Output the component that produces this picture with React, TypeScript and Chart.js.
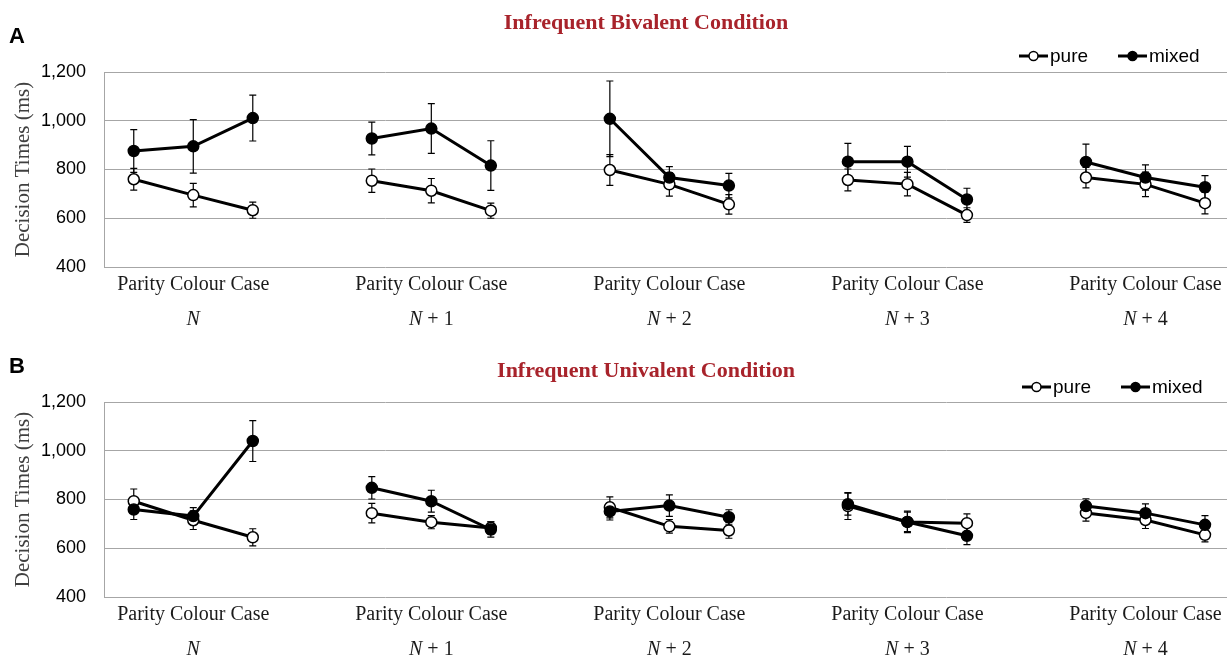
import React, { useEffect, useRef } from "react";
import { Chart, registerables } from "chart.js";
Chart.register(...registerables);

const groups = ["N", "N + 1", "N + 2", "N + 3", "N + 4"];
const conditions = ["Parity", "Colour", "Case"];
const tickLabel = conditions.join(" ");
const yTicks = [400, 600, 800, 1000, 1200];
const seriesNames = ["pure", "mixed"];

// Panel A – Infrequent Bivalent Condition
const pureA = [760, 695, 633, 754, 713, 631, 798, 739, 657, 757, 740, 613, 767, 739, 662];
const pureAErr = [45, 48, 33, 48, 50, 31, 63, 48, 40, 45, 48, 30, 42, 50, 44];
const mixedA = [876, 895, 1011, 927, 968, 816, 1008, 767, 734, 832, 832, 677, 831, 767, 727];
const mixedAErr = [88, 110, 94, 67, 102, 102, 155, 45, 50, 75, 63, 46, 73, 52, 48];

// Panel B – Infrequent Univalent Condition
const pureB = [793, 715, 645, 744, 707, 683, 768, 690, 673, 773, 708, 703, 745, 716, 655];
const pureBErr = [50, 38, 35, 40, 27, 25, 43, 28, 32, 55, 40, 38, 34, 35, 29];
const mixedB = [759, 732, 1040, 848, 793, 677, 751, 775, 727, 781, 708, 651, 773, 744, 696];
const mixedBErr = [41, 35, 84, 46, 45, 31, 35, 44, 31, 45, 44, 36, 30, 38, 38];

const W = 1227;
const H = 330;

type Pt = { x: number; y: number | null; err?: number };

function toPoints(vals: number[], errs: number[]): Pt[] {
  const out: Pt[] = [];
  groups.forEach((_, g) => {
    conditions.forEach((_, c) => {
      const i = g * 3 + c;
      out.push({ x: g * 4 + c, y: vals[i], err: errs[i] });
    });
    if (g < groups.length - 1) out.push({ x: g * 4 + 3, y: null });
  });
  return out;
}

type PanelProps = {
  letter: string;
  title: string;
  pure: number[];
  pureErr: number[];
  mixed: number[];
  mixedErr: number[];
  titleBase: number;
  legendY: number;
  legendDx: number;
};

function Panel(p: PanelProps) {
  const ref = useRef<HTMLCanvasElement>(null);
  useEffect(() => {
    const errorBars = {
      id: "errorBars",
      beforeDatasetsDraw(chart: any) {
        const ctx = chart.ctx;
        const ys = chart.scales.y;
        ctx.save();
        ctx.strokeStyle = "#000";
        ctx.lineWidth = 1.2;
        chart.data.datasets.forEach((ds: any, di: number) => {
          const meta = chart.getDatasetMeta(di);
          ds.data.forEach((pt: Pt, i: number) => {
            if (pt.y == null || !pt.err) return;
            const el = meta.data[i];
            const x = el.x;
            const y1 = ys.getPixelForValue(pt.y + pt.err);
            const y2 = ys.getPixelForValue(pt.y - pt.err);
            ctx.beginPath();
            ctx.moveTo(x, y1);
            ctx.lineTo(x, y2);
            ctx.moveTo(x - 3.5, y1);
            ctx.lineTo(x + 3.5, y1);
            ctx.moveTo(x - 3.5, y2);
            ctx.lineTo(x + 3.5, y2);
            ctx.stroke();
          });
        });
        ctx.restore();
      },
    };
    const texts = {
      id: "texts",
      afterDraw(chart: any) {
        const ctx = chart.ctx;
        const xs = chart.scales.x;
        const area = chart.chartArea;
        ctx.save();
        // panel letter
        ctx.fillStyle = "#000";
        ctx.font = 'bold 22px "Liberation Sans"';
        ctx.textAlign = "left";
        ctx.textBaseline = "alphabetic";
        ctx.fillText(p.letter, 9, 43);
        // title
        ctx.fillStyle = "#a8232b";
        ctx.font = 'bold 22px "Liberation Serif"';
        ctx.textAlign = "center";
        ctx.fillText(p.title, 646, p.titleBase);
        // y title
        ctx.save();
        ctx.translate(23, (area.top + area.bottom) / 2);
        ctx.rotate(-Math.PI / 2);
        ctx.fillStyle = "#404040";
        ctx.font = '21px "Liberation Serif"';
        ctx.textAlign = "center";
        ctx.textBaseline = "middle";
        ctx.fillText("Decision Times (ms)", 0, 0);
        ctx.restore();
        // group labels
        ctx.fillStyle = "#1a1a1a";
        ctx.textBaseline = "alphabetic";
        ctx.textAlign = "left";
        groups.forEach((g, gi) => {
          const cx = xs.getPixelForValue(gi * 4 + 1);
          const rest = g.slice(1);
          ctx.font = 'italic 20px "Liberation Serif"';
          const w1 = ctx.measureText("N").width;
          ctx.font = '20px "Liberation Serif"';
          const w2 = ctx.measureText(rest).width;
          const x0 = cx - (w1 + w2) / 2;
          ctx.font = 'italic 20px "Liberation Serif"';
          ctx.fillText("N", x0, 325);
          ctx.font = '20px "Liberation Serif"';
          ctx.fillText(rest, x0 + w1, 325);
        });
        // legend
        const ly = p.legendY;
        const items = [
          { x: 1019 + p.legendDx, fill: "#fff" },
          { x: 1118 + p.legendDx, fill: "#000" },
        ];
        items.forEach((it, i) => {
          ctx.strokeStyle = "#000";
          ctx.lineWidth = 3;
          ctx.beginPath();
          ctx.moveTo(it.x, ly);
          ctx.lineTo(it.x + 29, ly);
          ctx.stroke();
          ctx.beginPath();
          ctx.arc(it.x + 14.5, ly, 4.5, 0, Math.PI * 2);
          ctx.fillStyle = it.fill;
          ctx.fill();
          ctx.lineWidth = 1.5;
          ctx.stroke();
          ctx.fillStyle = "#000";
          ctx.font = '19px "Liberation Sans"';
          ctx.textBaseline = "middle";
          ctx.textAlign = "left";
          ctx.fillText(seriesNames[i], it.x + 31, ly + 1);
        });
        ctx.restore();
      },
    };
    const common = {
      borderColor: "#000",
      borderWidth: 3,
      pointRadius: 5.5,
      pointHoverRadius: 5.5,
      pointBorderColor: "#000",
      pointBorderWidth: 1.5,
      spanGaps: false,
      tension: 0,
      clip: false as any,
    };
    const chart = new Chart(ref.current!, {
      type: "line",
      data: {
        datasets: [
          { ...common, label: seriesNames[0], data: toPoints(p.pure, p.pureErr) as any, pointBackgroundColor: "#fff", order: 1 },
          { ...common, label: seriesNames[1], data: toPoints(p.mixed, p.mixedErr) as any, pointBackgroundColor: "#000", order: 0 },
        ],
      },
      options: {
        animation: false,
        responsive: false,
        layout: { autoPadding: false, padding: { top: 72, left: 0, right: 0, bottom: 0 } },
        plugins: { legend: { display: false }, tooltip: { enabled: false }, title: { display: false } },
        scales: {
          x: {
            type: "linear",
            min: -0.5,
            max: 18.37,
            grid: { display: false },
            border: { display: false },
            afterBuildTicks: (s: any) => {
              s.ticks = groups.map((_, gi) => ({ value: gi * 4 + 1 }));
            },
            afterFit: (s: any) => {
              s.height = H - 267;
              s.paddingLeft = 0;
              s.paddingRight = 0;
            },
            ticks: {
              autoSkip: false,
              maxRotation: 0,
              padding: -2,
              color: "#1a1a1a",
              font: { family: "Liberation Serif", size: 20 },
              callback: () => tickLabel,
            },
          },
          y: {
            min: 400,
            max: 1200,
            afterBuildTicks: (s: any) => {
              s.ticks = yTicks.map((v) => ({ value: v }));
            },
            afterFit: (s: any) => {
              s.width = 104;
            },
            grid: { color: "#a6a6a6", lineWidth: 1, drawTicks: false },
            border: { display: true, color: "#a6a6a6", width: 1 },
            ticks: {
              padding: 18,
              color: "#000",
              font: { family: "Liberation Sans", size: 18 },
              callback: (v: any) => Number(v).toLocaleString("en-US"),
            },
          },
        },
      },
      plugins: [errorBars, texts],
    });
    return () => chart.destroy();
  }, []);
  return (
    <div style={{ width: W, height: H }}>
      <canvas ref={ref} width={W} height={H} style={{ display: "block" }} />
    </div>
  );
}

export default function App() {
  useEffect(() => {
    document.body.style.margin = "0";
    document.body.style.background = "#fff";
  }, []);
  return (
    <div style={{ width: W, background: "#fff" }}>
      <Panel
        letter="A"
        title="Infrequent Bivalent Condition"
        pure={pureA}
        pureErr={pureAErr}
        mixed={mixedA}
        mixedErr={mixedAErr}
        titleBase={29}
        legendY={56}
        legendDx={0}
      />
      <Panel
        letter="B"
        title="Infrequent Univalent Condition"
        pure={pureB}
        pureErr={pureBErr}
        mixed={mixedB}
        mixedErr={mixedBErr}
        titleBase={47}
        legendY={57}
        legendDx={3}
      />
    </div>
  );
}
